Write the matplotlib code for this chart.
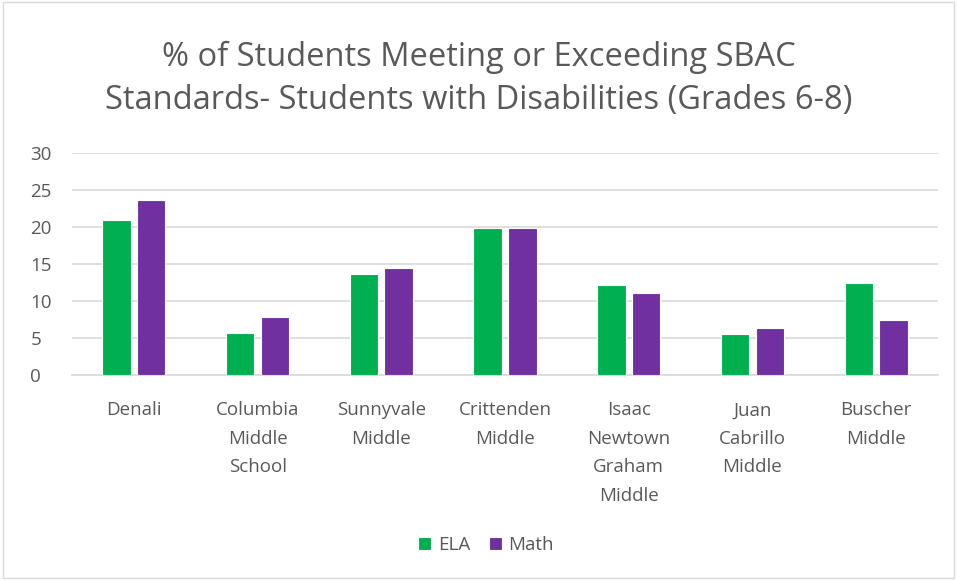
import matplotlib
matplotlib.use("Agg")
import matplotlib.pyplot as plt
import numpy as np

categories = ["Denali", "Columbia\nMiddle\nSchool", "Sunnyvale\nMiddle", "Crittenden\nMiddle",
              "Isaac\nNewtown\nGraham\nMiddle", "Juan\nCabrillo\nMiddle", "Buscher\nMiddle"]
ela = [20.9, 5.7, 13.6, 19.8, 12.2, 5.5, 12.5]
math_ = [23.6, 7.9, 14.4, 19.8, 11.1, 6.3, 7.4]
yticks = [0, 5, 10, 15, 20, 25, 30]

plt.rcParams['font.family'] = ['Open Sans', 'DejaVu Sans']
fig = plt.figure(figsize=(9.57, 5.80), dpi=100)
ax = fig.add_axes([72/957, 1-375/580, 866/957, 222/580])

x = np.arange(len(categories))
w = 0.23
gap = 0.025
ax.bar(x - w/2 - gap, ela, w, color='#00B050', edgecolor='white', linewidth=0.8, label='ELA', zorder=3)
ax.bar(x + w/2 + gap, math_, w, color='#7030A0', edgecolor='white', linewidth=0.8, label='Math', zorder=3)

ax.set_ylim(0, 30)
ax.set_xlim(-0.5, len(categories) - 0.5)
ax.set_yticks(yticks)
ax.set_xticks(x)
ax.set_xticklabels(categories, fontsize=13.5, color='#595959', linespacing=1.75, va='top')
ax.tick_params(axis='y', labelsize=13.5, colors='#595959', length=0, pad=30)
ax.tick_params(axis='x', length=0, pad=19)
for lbl in ax.get_yticklabels():
    lbl.set_horizontalalignment('left')
ax.grid(axis='y', color='#D9D9D9', linewidth=1.2, zorder=0)
for s in ['top', 'right', 'left']:
    ax.spines[s].set_visible(False)
ax.spines['bottom'].set_color('#D9D9D9')
ax.spines['bottom'].set_linewidth(1.2)

fig.text(0.5, 1-57/580, "% of Students Meeting or Exceeding SBAC", ha='center', va='center',
         fontsize=23.5, color='#595959')
fig.text(0.5, 1-101/580, "Standards- Students with Disabilities (Grades 6-8)", ha='center', va='center',
         fontsize=23.5, color='#595959')

leg = fig.legend(loc='center', bbox_to_anchor=(0.508, 1-545/580), ncol=2, frameon=False,
                 fontsize=13.5, handlelength=0.7, handleheight=0.7, handletextpad=0.35, columnspacing=1.0)
for t in leg.get_texts():
    t.set_color('#595959')

border = plt.Rectangle((0.003, 0.003), 0.994, 0.994, transform=fig.transFigure, fill=False,
                       edgecolor='#D9D9D9', linewidth=1)
fig.patches.append(border)

fig.savefig("out.png", dpi=100, facecolor='white')
